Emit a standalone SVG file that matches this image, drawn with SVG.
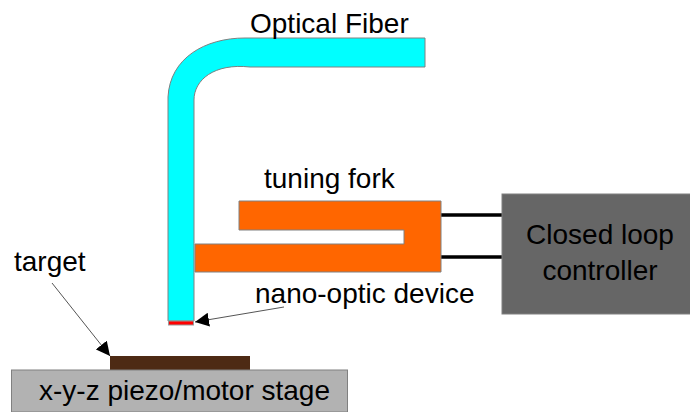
<svg xmlns="http://www.w3.org/2000/svg" width="690" height="412" viewBox="0 0 690 412">
<defs>
<marker id="ah" viewBox="0 0 14 14" refX="14" refY="7" markerWidth="14" markerHeight="14" markerUnits="userSpaceOnUse" orient="auto"><path d="M0 0L14 7L0 14Z" fill="#000"/></marker>
</defs>
<style>
text{font-family:"Liberation Sans",Arial,sans-serif;font-size:28px;fill:#000}
.s{stroke:#808080;stroke-width:1}
.l{stroke:#555;stroke-width:1;fill:none;marker-end:url(#ah)}
.w{stroke:#000;stroke-width:3.500;fill:none}
</style>
<rect width="690" height="412" fill="#fff"/>
<g id="connectors">
<path class="w" d="M440 215H503"/>
<path class="w" d="M440 257H503"/>
<path class="l" d="M52 283L110 356"/>
<path class="l" d="M284 307L195 322"/>
</g>
<g id="fiber">
<path class="s" fill="#00ffff" d="M168 321V97C170 58 205 38 245 38H425V67H250C214 63 194 80 194 100V321Z"/>
<rect x="168.500" y="321" width="25" height="4" fill="#ff0000" stroke="#999" stroke-width="1"/>
<text x="250" y="33">Optical Fiber</text>
</g>
<g id="fork">
<path class="s" fill="#ff6600" d="M239 201H441V272H195V244H404V230H239Z"/>
<text x="264" y="188">tuning fork</text>
</g>
<g id="controller">
<rect x="502" y="194" width="189" height="120" fill="#666666" stroke="#808080"/>
<text x="600" y="244" text-anchor="middle">Closed loop</text>
<text x="600" y="280" text-anchor="middle">controller</text>
</g>
<g id="device-label"><text x="255" y="303">nano-optic device</text></g>
<g id="target">
<rect x="110" y="356" width="140" height="14" fill="#4d2a14"/>
<text x="14" y="271">target</text>
</g>
<g id="stage">
<rect x="11.500" y="370" width="336" height="42" fill="#b2b2b2" stroke="#808080"/>
<text x="39" y="400">x-y-z piezo/motor stage</text>
</g>
</svg>
